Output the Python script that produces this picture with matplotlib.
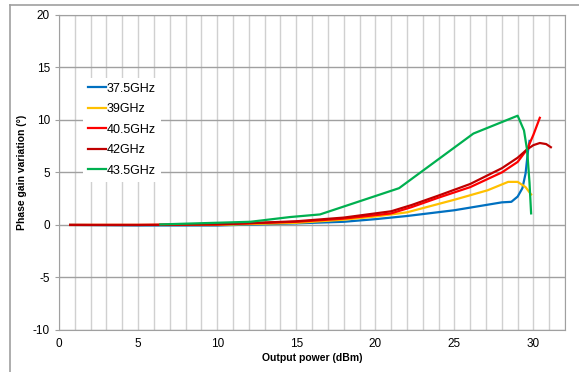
import matplotlib.pyplot as plt
import numpy as np

plt.rcParams['font.family'] = ['Liberation Sans', 'DejaVu Sans']
plt.rcParams['axes.unicode_minus'] = False

# output power (dBm) / phase gain variation (deg) per frequency
x_375 = [0.7, 5, 10, 15, 18, 20, 22, 25, 28, 28.6, 29.0, 29.3, 29.5, 29.65, 29.75]
y_375 = [0, -0.05, -0.05, 0.15, 0.3, 0.55, 0.85, 1.4, 2.15, 2.2, 2.7, 3.5, 4.9, 7.0, 8.0]

x_39 = [0.7, 5, 10, 15, 18, 20, 22, 25, 27.1, 28.4, 29.0, 29.5, 29.85]
y_39 = [0, 0, 0, 0.2, 0.5, 0.8, 1.2, 2.4, 3.3, 4.1, 4.1, 3.6, 2.9]

x_405 = [0.7, 5, 10, 15, 18, 21, 22.3, 24, 26, 28, 29, 29.6, 30.0, 30.4]
y_405 = [0, 0, 0.05, 0.3, 0.6, 1.1, 1.7, 2.6, 3.6, 5.0, 6.0, 7.2, 8.6, 10.2]

x_42 = [0.7, 5, 10, 15, 18, 21, 22.3, 24, 26, 28, 29, 29.6, 30.0, 30.4, 30.8, 31.1]
y_42 = [0, 0, 0.05, 0.35, 0.7, 1.3, 1.9, 2.8, 3.9, 5.4, 6.4, 7.2, 7.6, 7.8, 7.7, 7.4]

x_435 = [6.4, 12.1, 14.6, 16.5, 21.5, 26.2, 29.0, 29.4, 29.6, 29.75, 29.85]
y_435 = [0.05, 0.3, 0.75, 1.0, 3.5, 8.7, 10.4, 9.0, 7.1, 4.0, 1.1]

series = [
    ('37.5GHz', x_375, y_375, '#0070C0'),
    ('39GHz', x_39, y_39, '#FFC000'),
    ('40.5GHz', x_405, y_405, '#FF0000'),
    ('42GHz', x_42, y_42, '#C00000'),
    ('43.5GHz', x_435, y_435, '#00B050'),
]

fig = plt.figure(figsize=(5.79, 3.72), dpi=100)
ax = fig.add_axes([0.102, 0.113, 0.874, 0.847])

for label, xs, ys, col in series:
    ax.plot(xs, ys, color=col, lw=1.6, label=label)

ax.set_xlim(0, 32)
ax.set_ylim(-10, 20)
ax.set_xticks(range(0, 31, 5))
ax.set_xticks(range(0, 33), minor=True)
ax.set_yticks(range(-10, 21, 5))
ax.grid(axis='x', which='both', color='#d0d0d0', lw=1.0)
ax.grid(axis='y', which='major', color='#a0a0a0', lw=1.0)
ax.set_axisbelow(True)
ax.tick_params(axis='x', which='both', length=0, labelsize=8.5, pad=6)
ax.tick_params(axis='y', length=3, color='#a0a0a0', labelsize=8.5)
for s in ax.spines.values():
    s.set_color('#a0a0a0')

ax.set_xlabel('Output power (dBm)', fontsize=7.5, fontweight='bold', labelpad=2)
ax.set_ylabel('Phase gain variation (°)', fontsize=7.5, fontweight='bold', labelpad=4)

leg = ax.legend(loc='upper left', bbox_to_anchor=(0.035, 0.82), frameon=True,
                fontsize=9, handlelength=1.4, handletextpad=0.1,
                labelspacing=0.68, borderpad=0.4)
leg.get_frame().set_edgecolor('none')
leg.get_frame().set_facecolor('white')
leg.get_frame().set_alpha(1)

# outer chart frame
fig.add_artist(plt.Line2D([10 / 579, 1], [1 - 5 / 372] * 2, color='#a0a0a0', lw=1.2))
fig.add_artist(plt.Line2D([10 / 579] * 2, [0, 1 - 5 / 372], color='#a0a0a0', lw=1.2))

fig.savefig('out.png', dpi=100)
